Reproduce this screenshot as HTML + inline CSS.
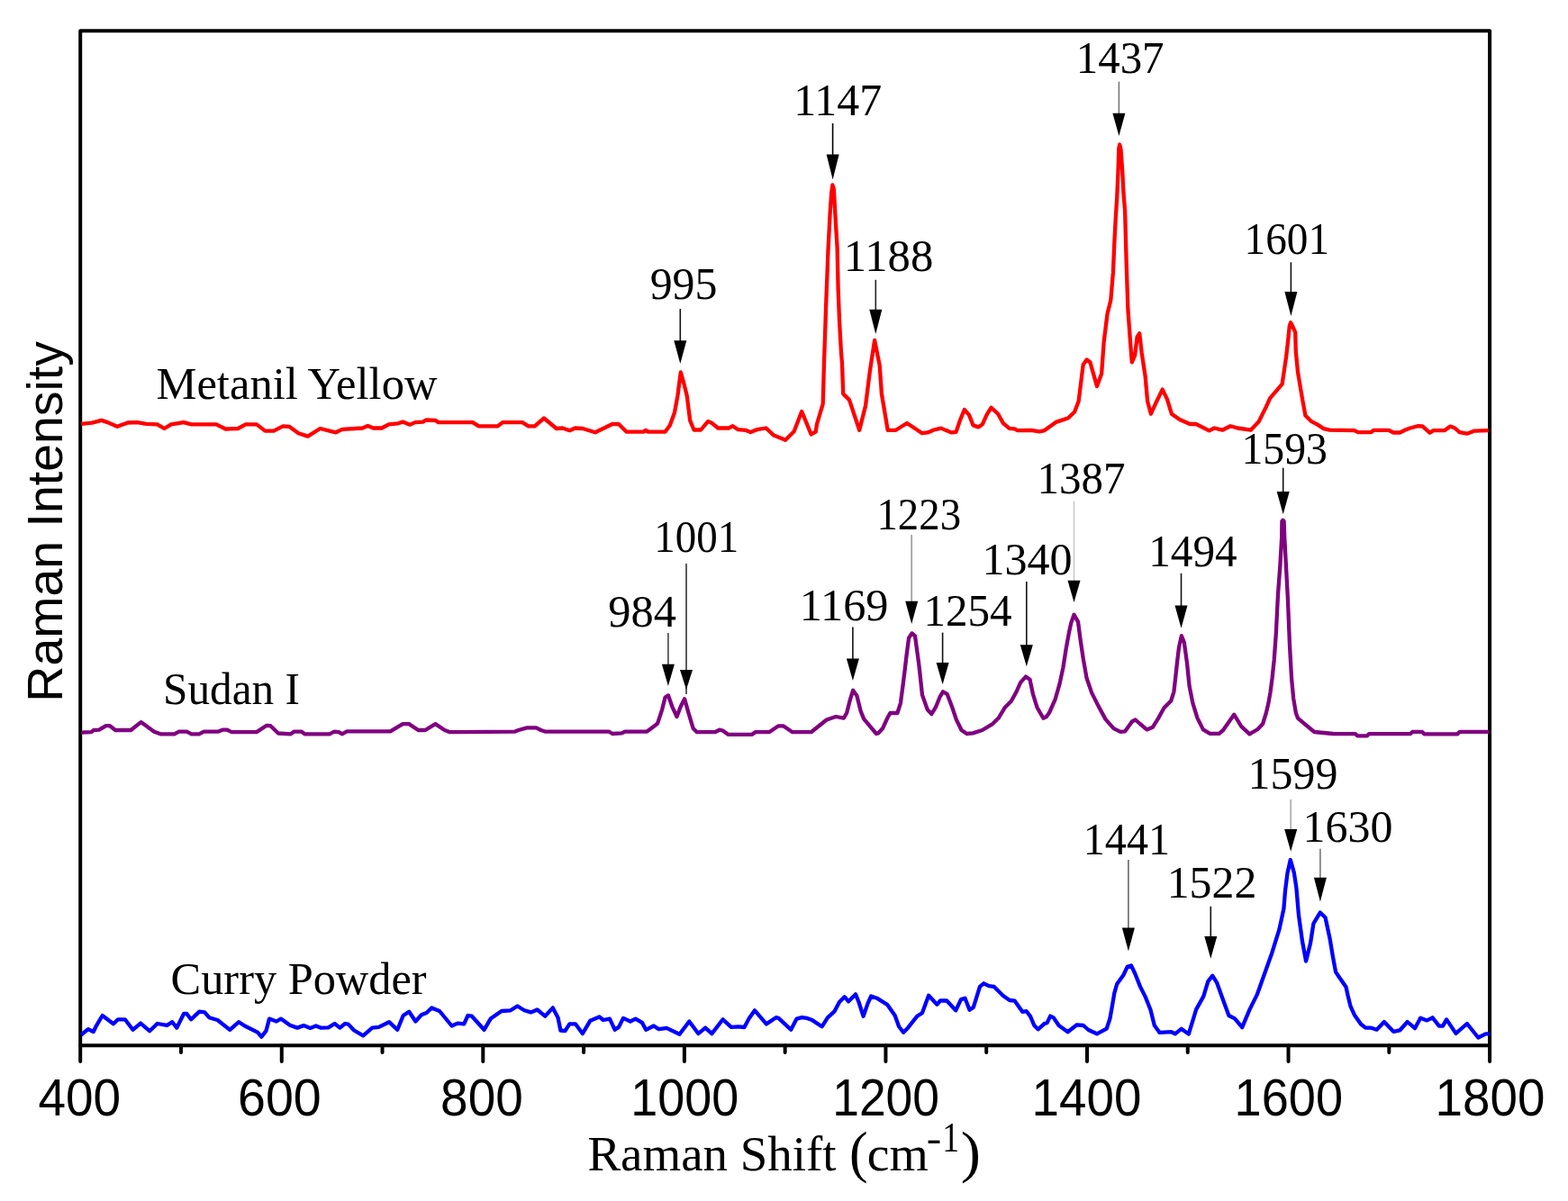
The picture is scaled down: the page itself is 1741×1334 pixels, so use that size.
<!DOCTYPE html><html><head><meta charset="utf-8"><title>Raman spectra</title><style>html,body{margin:0;padding:0;background:#fff;}svg{display:block;}</style></head><body>
<svg width="1741" height="1334" viewBox="0 0 1741 1334">
<rect x="0" y="0" width="1741" height="1334" fill="#ffffff"/>
<rect x="89.20" y="34.30" width="1564.90" height="1126.90" fill="none" stroke="#000" stroke-width="4.00" stroke-linejoin="round"/>
<path d="M89.20 1161.20V1179.00M200.98 1161.20V1169.00M312.76 1161.20V1179.00M424.54 1161.20V1169.00M536.31 1161.20V1179.00M648.09 1161.20V1169.00M759.87 1161.20V1179.00M871.65 1161.20V1169.00M983.43 1161.20V1179.00M1095.21 1161.20V1169.00M1206.99 1161.20V1179.00M1318.76 1161.20V1169.00M1430.54 1161.20V1179.00M1542.32 1161.20V1169.00M1654.10 1161.20V1179.00" stroke="#000" stroke-width="4.00" stroke-linecap="round" fill="none"/>
<g fill="none" stroke-width="4.30" stroke-linejoin="round" stroke-linecap="butt">
<path stroke="#ff0000" d="M90.2 470.8L102.2 469.6L112.6 466.9L119.5 469.1L130.1 473.8L141.9 469.5L152.2 469.1L162.5 470.8L174.6 471.4L182.4 476.0L190.1 471.4L203.9 469.1L212.5 471.4L240.1 471.4L250.4 476.5L264.2 476.0L272.8 471.4L284.9 471.4L294.4 478.6L303.9 478.6L314.2 473.4L321.1 473.8L331.4 481.2L341.8 484.6L355.5 476.0L372.8 480.3L380.0 476.9L402.4 475.5L408.4 473.1L414.5 475.5L423.9 475.5L431.7 471.4L442.0 470.3L447.2 468.6L455.0 471.7L461.0 469.1L469.6 468.6L473.1 466.5L483.4 466.9L486.8 469.1L524.8 469.1L531.6 473.4L552.3 473.4L558.4 469.1L579.9 469.1L586.8 473.4L593.7 473.4L604.0 464.5L617.8 476.0L624.7 475.5L632.5 478.2L638.5 475.5L647.1 476.0L660.9 480.3L680.0 471.0L686.9 471.0L695.5 479.6L714.5 479.6L717.0 477.9L719.6 479.6L738.6 479.6L743.8 472.4L748.9 458.6L752.4 439.6L755.8 413.5L759.3 425.8L762.7 439.6L766.2 467.2L770.5 477.5L778.2 477.5L786.0 468.1L790.3 469.8L797.2 475.5L809.2 475.5L813.6 473.2L819.6 477.2L828.2 477.9L833.4 480.1L840.3 477.2L850.6 475.5L859.2 483.6L872.1 488.7L881.6 479.3L890.2 457.0L900.6 482.4L905.7 479.6L907.0 471.1L913.7 448.6L914.9 405.9L917.1 340.7L919.4 280.0L921.6 237.2L923.2 214.0L924.4 205.3L925.8 210.0L927.2 235.0L928.2 252.0L929.6 275.0L930.6 320.0L932.0 356.0L934.0 392.0L935.0 403.6L936.2 437.4L943.0 444.1L954.2 477.8L961.0 450.9L965.5 414.9L971.1 378.0L976.7 405.9L978.9 437.4L985.7 477.8L994.7 477.8L1007.0 470.0L1023.9 481.2L1030.0 480.4L1036.9 477.5L1044.9 475.6L1050.7 478.1L1056.4 480.4L1061.6 479.8L1065.6 467.8L1070.8 455.0L1076.0 460.9L1080.5 472.4L1086.3 474.4L1090.9 471.2L1095.5 460.9L1100.6 452.7L1108.1 459.7L1113.9 470.1L1120.8 475.8L1126.5 476.4L1129.9 478.1L1144.9 477.9L1154.1 479.3L1159.8 478.1L1172.4 468.9L1179.3 466.6L1186.2 464.3L1193.1 457.4L1197.6 445.7L1202.7 404.9L1206.6 399.5L1210.4 402.3L1218.0 429.1L1223.1 415.1L1225.7 379.4L1229.5 348.8L1233.3 333.5L1235.9 302.9L1237.2 272.3L1238.6 245.0L1240.2 220.0L1241.5 190.0L1242.3 165.0L1243.2 160.5L1244.5 166.0L1246.2 190.0L1247.5 215.0L1249.1 234.1L1250.7 292.7L1252.4 343.7L1255.0 379.4L1256.8 402.3L1260.1 394.7L1262.6 374.3L1265.2 370.2L1267.7 392.1L1271.6 417.6L1274.1 445.7L1277.9 459.7L1284.3 445.7L1290.7 432.6L1295.8 443.1L1300.9 459.7L1309.8 466.0L1321.2 471.0L1328.0 471.0L1342.6 478.3L1348.2 475.5L1357.2 477.7L1366.2 473.3L1374.1 475.5L1388.7 477.7L1397.7 468.2L1405.6 452.4L1410.1 442.3L1423.6 426.6L1425.8 412.0L1428.1 396.2L1430.3 377.1L1431.8 362.0L1433.1 358.2L1434.6 361.0L1438.2 369.2L1438.8 390.6L1441.0 413.1L1443.8 430.0L1446.1 443.5L1449.4 461.4L1456.2 468.2L1462.9 471.6L1469.7 476.1L1476.4 477.7L1503.8 478.1L1507.9 480.1L1522.4 480.1L1525.5 477.8L1542.0 477.8L1547.2 480.5L1554.4 480.5L1559.6 477.8L1565.8 475.5L1574.1 473.2L1579.3 473.4L1587.5 480.7L1591.7 478.1L1604.1 478.1L1610.3 473.6L1615.4 475.5L1620.6 480.1L1628.9 481.7L1637.2 478.6L1652.7 478.1"/>
<path stroke="#800080" d="M90.2 813.6L101.4 813.1L104.0 811.0L110.0 810.7L117.7 806.2L122.0 806.2L128.1 811.0L145.3 811.0L156.5 802.1L171.2 812.7L178.1 815.3L193.6 815.3L198.7 812.7L207.4 812.7L212.5 815.3L221.1 815.3L226.3 812.7L241.8 812.7L247.0 810.7L252.2 810.7L257.3 813.1L284.9 813.1L296.1 805.8L300.4 806.2L309.0 814.5L322.8 815.3L326.3 812.7L334.9 812.7L338.3 815.3L365.9 815.3L371.1 812.7L376.2 813.1L379.7 815.3L385.2 812.4L433.4 812.4L447.2 804.1L454.1 804.1L464.4 811.0L472.2 811.0L483.4 804.1L493.7 811.0L498.9 813.1L571.3 812.7L575.6 811.0L585.1 808.4L595.4 808.4L600.6 811.0L605.7 812.7L676.4 812.7L680.0 815.0L690.3 814.4L693.8 812.7L717.9 812.7L723.1 808.9L730.0 803.8L735.1 788.3L738.6 774.5L742.0 772.4L746.3 784.8L751.5 796.0L755.8 784.8L760.1 776.3L764.4 791.7L769.6 808.9L773.9 813.2L793.7 813.2L798.9 810.7L802.4 811.5L808.4 815.8L835.1 815.8L838.5 813.2L854.0 813.2L864.4 806.3L869.6 806.3L879.9 813.2L900.6 813.2L917.8 799.5L928.1 796.0L936.8 797.7L940.2 791.7L943.7 777.9L947.1 766.8L951.4 772.7L955.7 790.0L959.2 798.6L973.0 815.0L975.2 814.4L980.3 808.7L984.9 798.3L988.4 792.0L996.4 792.0L999.9 781.1L1002.2 763.9L1004.5 745.5L1006.8 726.0L1009.1 708.7L1012.5 703.4L1016.0 706.4L1018.2 722.5L1020.5 739.7L1024.0 771.9L1029.7 788.0L1034.3 793.2L1038.9 785.7L1043.5 774.2L1047.0 768.3L1051.6 770.8L1057.3 785.7L1061.9 799.5L1067.6 811.0L1073.4 815.0L1080.3 814.4L1090.6 811.0L1102.1 804.1L1109.0 797.2L1115.9 785.7L1122.8 778.8L1128.5 768.5L1133.1 758.1L1138.9 751.6L1143.5 754.7L1146.9 770.8L1151.5 785.7L1158.4 797.7L1162.0 796.0L1165.1 791.5L1171.5 777.2L1176.6 759.4L1180.4 741.6L1183.6 721.2L1186.8 703.3L1189.3 691.9L1192.5 682.7L1197.0 690.6L1199.5 709.7L1202.7 731.4L1206.5 753.0L1212.2 769.6L1219.9 784.9L1227.5 798.9L1236.5 809.1L1244.1 812.9L1249.2 812.3L1256.9 801.5L1260.7 799.5L1265.8 804.0L1273.4 810.4L1279.8 807.8L1286.2 797.6L1292.5 786.2L1300.2 778.5L1303.4 768.3L1305.3 751.8L1307.2 733.9L1309.1 718.6L1311.9 706.2L1314.8 713.5L1318.0 736.5L1320.6 762.0L1324.4 781.1L1329.5 797.6L1335.9 810.4L1343.5 814.8L1353.7 814.8L1358.1 811.0L1370.2 793.7L1378.3 806.9L1387.4 815.4L1396.5 810.0L1402.1 804.0L1405.8 792.0L1408.4 781.0L1410.5 769.0L1412.6 753.0L1414.7 733.0L1416.8 704.0L1419.0 660.0L1421.4 628.0L1423.2 596.0L1423.4 579.0L1424.5 577.8L1425.6 579.0L1426.2 596.0L1427.7 624.0L1429.9 665.0L1432.0 717.0L1434.1 754.0L1436.2 776.0L1438.9 792.0L1441.0 797.6L1447.1 802.9L1459.3 813.0L1480.0 815.0L1504.9 815.1L1507.1 817.3L1518.0 817.3L1520.2 815.1L1566.0 815.1L1568.2 812.9L1579.1 812.9L1581.3 815.3L1618.4 815.3L1620.6 812.9L1653.3 812.9"/>
<path stroke="#0000ff" d="M90.0 1149.5L97.9 1143.1L103.7 1146.0L106.5 1140.2L113.7 1128.0L125.9 1137.3L131.0 1132.3L138.8 1132.3L147.5 1143.8L156.1 1136.6L166.1 1145.2L174.7 1137.0L185.5 1138.8L191.3 1135.2L196.3 1141.6L204.2 1125.8L207.1 1125.8L212.1 1132.3L221.4 1123.7L227.2 1124.4L232.2 1130.2L241.5 1133.0L255.2 1143.8L265.2 1135.2L271.7 1139.5L286.0 1146.7L290.3 1151.7L295.4 1145.2L299.0 1131.6L306.9 1134.5L311.9 1131.6L321.9 1138.8L330.0 1141.6L337.2 1139.1L344.4 1141.9L350.8 1139.5L355.8 1141.6L364.5 1141.4L371.6 1137.0L377.4 1141.6L383.1 1137.0L386.7 1137.6L393.2 1144.5L403.2 1150.3L413.3 1141.6L420.5 1140.9L432.0 1135.2L441.3 1143.8L447.7 1128.0L454.2 1123.7L461.4 1134.5L467.9 1127.3L473.6 1125.1L479.3 1119.4L488.0 1123.0L501.6 1139.5L508.1 1136.6L515.2 1137.3L519.5 1128.0L523.9 1128.7L537.5 1143.8L544.7 1131.6L556.9 1123.0L566.9 1122.3L574.5 1117.5L582.2 1122.3L589.4 1124.4L596.5 1121.5L605.2 1128.7L613.8 1119.4L619.5 1130.2L622.4 1144.5L627.4 1145.2L632.4 1137.3L638.9 1137.3L646.8 1148.1L655.4 1133.7L665.5 1129.4L669.8 1133.0L677.0 1131.6L682.7 1143.8L687.0 1140.9L692.0 1130.9L699.9 1134.5L705.7 1131.6L712.9 1135.9L717.2 1143.8L725.8 1139.5L731.5 1143.1L740.1 1141.9L754.5 1148.8L765.3 1134.5L775.3 1148.1L783.2 1141.6L790.4 1148.1L802.6 1132.3L811.9 1140.9L820.0 1140.3L826.5 1141.0L831.5 1131.6L838.0 1122.3L850.9 1137.4L861.6 1130.2L864.5 1130.9L878.2 1143.8L884.6 1131.6L890.4 1130.2L896.1 1130.9L901.8 1133.1L912.6 1140.3L919.1 1130.2L926.3 1123.7L932.0 1113.0L937.7 1107.2L942.1 1112.3L950.0 1104.4L953.5 1113.0L958.6 1128.8L963.6 1114.4L967.2 1106.5L973.6 1108.7L985.1 1115.8L993.7 1128.1L998.1 1140.3L1003.1 1146.7L1008.1 1141.7L1018.2 1128.8L1023.9 1125.2L1031.1 1105.8L1040.4 1115.8L1044.0 1111.5L1051.2 1111.5L1061.2 1122.3L1067.0 1110.1L1071.5 1108.8L1076.5 1121.7L1080.8 1118.9L1088.0 1095.9L1092.3 1092.3L1098.0 1095.2L1103.8 1095.9L1113.8 1106.0L1121.0 1111.0L1126.7 1111.7L1135.4 1123.9L1139.7 1123.2L1144.0 1128.9L1148.3 1139.0L1152.6 1143.3L1159.8 1136.8L1162.6 1136.1L1166.2 1128.6L1169.8 1130.4L1175.6 1139.0L1185.6 1146.2L1195.7 1138.3L1202.9 1139.0L1208.6 1144.0L1217.9 1148.3L1228.7 1142.6L1232.3 1131.8L1234.4 1120.3L1237.3 1103.1L1240.2 1093.0L1247.4 1083.0L1251.7 1073.9L1256.0 1072.5L1260.3 1081.5L1266.0 1095.9L1271.8 1107.4L1277.5 1121.7L1281.8 1139.0L1287.6 1146.9L1300.5 1146.2L1304.8 1148.3L1311.6 1142.8L1319.8 1148.6L1328.1 1121.4L1336.3 1106.6L1341.3 1090.1L1346.2 1083.7L1351.2 1091.7L1357.8 1109.9L1364.4 1128.0L1371.0 1131.3L1379.2 1141.2L1387.5 1121.4L1395.7 1104.9L1404.0 1081.8L1412.2 1058.7L1420.4 1032.4L1425.4 1009.3L1427.0 989.5L1429.5 969.7L1432.8 955.0L1436.9 969.7L1439.4 986.2L1441.9 1015.9L1446.0 1045.5L1450.1 1067.6L1455.1 1047.2L1458.4 1025.8L1465.8 1013.6L1471.6 1019.2L1476.5 1042.2L1480.0 1063.1L1483.1 1079.6L1487.2 1085.8L1494.5 1096.2L1496.5 1105.5L1499.6 1117.9L1503.8 1127.2L1511.0 1137.5L1516.2 1141.7L1522.4 1141.7L1528.6 1143.7L1536.9 1135.0L1547.2 1145.8L1554.4 1144.3L1562.7 1135.0L1571.0 1142.2L1577.2 1130.8L1584.4 1133.4L1590.6 1130.3L1597.9 1139.6L1602.0 1139.6L1606.1 1132.4L1616.5 1147.9L1628.9 1137.0L1641.3 1152.5L1649.6 1148.4L1653.7 1148.4"/>
</g>
<g fill="#000">
<text transform="matrix(1.0000 0 0 1.0289 42.40 1239.40)" font-family="Liberation Sans, Arial, sans-serif" font-size="55">400</text>
<text transform="matrix(1.0103 0 0 1.0289 264.07 1239.40)" font-family="Liberation Sans, Arial, sans-serif" font-size="55">600</text>
<text transform="matrix(0.9989 0 0 1.0289 489.10 1239.40)" font-family="Liberation Sans, Arial, sans-serif" font-size="55">800</text>
<text transform="matrix(0.9810 0 0 1.0289 700.18 1239.40)" font-family="Liberation Sans, Arial, sans-serif" font-size="55">1000</text>
<text transform="matrix(0.9707 0 0 1.0289 924.22 1239.40)" font-family="Liberation Sans, Arial, sans-serif" font-size="55">1200</text>
<text transform="matrix(0.9948 0 0 1.0289 1145.62 1239.40)" font-family="Liberation Sans, Arial, sans-serif" font-size="55">1400</text>
<text transform="matrix(0.9845 0 0 1.0289 1370.56 1239.40)" font-family="Liberation Sans, Arial, sans-serif" font-size="55">1600</text>
<text transform="matrix(0.9957 0 0 1.0289 1593.62 1239.40)" font-family="Liberation Sans, Arial, sans-serif" font-size="55">1800</text>
<text transform="matrix(0 -1.0082 1.0000 0 68.80 779.64)" font-family="Liberation Sans, Arial, sans-serif" font-size="55">Raman Intensity</text>
<text transform="matrix(0.9982 0 0 1 652.50 1300.20)" font-family="Liberation Serif, Times New Roman, serif" font-size="55">Raman Shift</text>
<text transform="matrix(1.0125 0 0 1 962.77 1300.20)" font-family="Liberation Serif, Times New Roman, serif" font-size="55">cm</text>
<text transform="matrix(1.1267 0 0 1.1571 943.05 1300.77)" font-family="Liberation Serif, Times New Roman, serif" font-size="55">(</text>
<text transform="matrix(1.1273 0 0 1.0000 1028.75 1279.25)" font-family="Liberation Serif, Times New Roman, serif" font-size="44">-</text>
<text transform="matrix(0.8600 0 0 1.0310 1046.36 1278.60)" font-family="Liberation Serif, Times New Roman, serif" font-size="44">1</text>
<text transform="matrix(1.2143 0 0 1.1571 1066.67 1300.77)" font-family="Liberation Serif, Times New Roman, serif" font-size="55">)</text>
<text transform="matrix(1.0026 0 0 1 173.40 443.10)" font-family="Liberation Serif, Times New Roman, serif" font-size="50.5">Metanil Yellow</text>
<text transform="matrix(0.9755 0 0 1 181.07 782.40)" font-family="Liberation Serif, Times New Roman, serif" font-size="50.5">Sudan I</text>
<text transform="matrix(0.9975 0 0 1 189.60 1103.60)" font-family="Liberation Serif, Times New Roman, serif" font-size="50.5">Curry Powder</text>
<text transform="matrix(0.9685 0 0 1.0000 721.66 332.35)" font-family="Liberation Serif, Times New Roman, serif" font-size="51.5">995</text>
<text transform="matrix(0.9695 0 0 1.0000 881.25 127.70)" font-family="Liberation Serif, Times New Roman, serif" font-size="51.5">1147</text>
<text transform="matrix(0.9851 0 0 1.0000 936.77 300.75)" font-family="Liberation Serif, Times New Roman, serif" font-size="51.5">1188</text>
<text transform="matrix(0.9495 0 0 1.0000 1194.75 81.10)" font-family="Liberation Serif, Times New Roman, serif" font-size="51.5">1437</text>
<text transform="matrix(0.9179 0 0 1.0000 1381.61 282.15)" font-family="Liberation Serif, Times New Roman, serif" font-size="51.5">1601</text>
<text transform="matrix(0.9784 0 0 1.0000 675.34 696.30)" font-family="Liberation Serif, Times New Roman, serif" font-size="51.5">984</text>
<text transform="matrix(0.9116 0 0 1.0000 726.24 613.25)" font-family="Liberation Serif, Times New Roman, serif" font-size="51.5">1001</text>
<text transform="matrix(0.9766 0 0 1.0000 887.72 688.70)" font-family="Liberation Serif, Times New Roman, serif" font-size="51.5">1169</text>
<text transform="matrix(0.9094 0 0 1.0000 973.45 587.55)" font-family="Liberation Serif, Times New Roman, serif" font-size="51.5">1223</text>
<text transform="matrix(0.9526 0 0 1.0000 1025.44 694.90)" font-family="Liberation Serif, Times New Roman, serif" font-size="51.5">1254</text>
<text transform="matrix(0.9729 0 0 1.0000 1090.44 638.25)" font-family="Liberation Serif, Times New Roman, serif" font-size="51.5">1340</text>
<text transform="matrix(0.9515 0 0 1.0000 1151.44 548.00)" font-family="Liberation Serif, Times New Roman, serif" font-size="51.5">1387</text>
<text transform="matrix(0.9567 0 0 1.0000 1275.22 628.95)" font-family="Liberation Serif, Times New Roman, serif" font-size="51.5">1494</text>
<text transform="matrix(0.9271 0 0 1.0000 1378.46 515.10)" font-family="Liberation Serif, Times New Roman, serif" font-size="51.5">1593</text>
<text transform="matrix(0.9358 0 0 1.0000 1202.72 949.35)" font-family="Liberation Serif, Times New Roman, serif" font-size="51.5">1441</text>
<text transform="matrix(0.9684 0 0 1.0000 1295.66 996.95)" font-family="Liberation Serif, Times New Roman, serif" font-size="51.5">1522</text>
<text transform="matrix(0.9698 0 0 1.0000 1385.55 875.95)" font-family="Liberation Serif, Times New Roman, serif" font-size="51.5">1599</text>
<text transform="matrix(0.9698 0 0 1.0000 1446.55 934.90)" font-family="Liberation Serif, Times New Roman, serif" font-size="51.5">1630</text>
</g>
<line x1="755.30" y1="343.10" x2="755.30" y2="379.20" stroke="#111" stroke-width="1.6"/>
<line x1="924.60" y1="137.00" x2="924.60" y2="172.60" stroke="#000" stroke-width="1.6"/>
<line x1="972.30" y1="310.80" x2="972.30" y2="344.70" stroke="#222" stroke-width="1.6"/>
<line x1="1242.40" y1="90.70" x2="1242.40" y2="126.80" stroke="#777" stroke-width="1.6"/>
<line x1="1433.40" y1="291.30" x2="1433.40" y2="325.10" stroke="#111" stroke-width="1.6"/>
<line x1="741.90" y1="703.00" x2="741.90" y2="738.70" stroke="#444" stroke-width="1.6"/>
<line x1="762.00" y1="625.90" x2="762.00" y2="771.00" stroke="#333" stroke-width="1.6"/>
<line x1="946.90" y1="696.50" x2="946.90" y2="732.60" stroke="#111" stroke-width="1.6"/>
<line x1="1012.20" y1="594.00" x2="1012.20" y2="668.70" stroke="#999" stroke-width="1.6"/>
<line x1="1046.60" y1="702.60" x2="1046.60" y2="737.10" stroke="#111" stroke-width="1.6"/>
<line x1="1139.80" y1="645.90" x2="1139.80" y2="717.20" stroke="#111" stroke-width="1.6"/>
<line x1="1192.50" y1="556.70" x2="1192.50" y2="645.80" stroke="#c8c8c8" stroke-width="1.6"/>
<line x1="1311.50" y1="636.80" x2="1311.50" y2="673.40" stroke="#111" stroke-width="1.6"/>
<line x1="1424.70" y1="519.70" x2="1424.70" y2="546.90" stroke="#111" stroke-width="1.6"/>
<line x1="1252.90" y1="955.10" x2="1252.90" y2="1031.60" stroke="#666" stroke-width="1.6"/>
<line x1="1344.30" y1="1006.80" x2="1344.30" y2="1040.90" stroke="#111" stroke-width="1.6"/>
<line x1="1433.20" y1="887.90" x2="1433.20" y2="922.00" stroke="#aaa" stroke-width="1.6"/>
<line x1="1465.90" y1="942.70" x2="1465.90" y2="975.70" stroke="#777" stroke-width="1.6"/>
<g fill="#000"><polygon points="748.30,378.20 762.30,378.20 755.30,404.00"/><polygon points="917.60,171.60 931.60,171.60 924.60,199.40"/><polygon points="965.30,343.70 979.30,343.70 972.30,371.10"/><polygon points="1235.40,125.80 1249.40,125.80 1242.40,151.10"/><polygon points="1426.40,324.10 1440.40,324.10 1433.40,351.10"/><polygon points="734.90,737.70 748.90,737.70 741.90,762.00"/><polygon points="755.00,744.00 769.00,744.00 762.00,766.00"/><polygon points="939.90,731.60 953.90,731.60 946.90,755.90"/><polygon points="1005.20,667.70 1019.20,667.70 1012.20,692.90"/><polygon points="1039.60,736.10 1053.60,736.10 1046.60,760.30"/><polygon points="1132.80,716.20 1146.80,716.20 1139.80,740.30"/><polygon points="1185.50,644.80 1199.50,644.80 1192.50,669.00"/><polygon points="1304.50,672.40 1318.50,672.40 1311.50,697.70"/><polygon points="1417.70,545.90 1431.70,545.90 1424.70,571.20"/><polygon points="1245.90,1030.60 1259.90,1030.60 1252.90,1056.40"/><polygon points="1337.30,1039.90 1351.30,1039.90 1344.30,1064.70"/><polygon points="1426.20,921.00 1440.20,921.00 1433.20,945.80"/><polygon points="1458.90,974.70 1472.90,974.70 1465.90,1001.60"/></g>
</svg></body></html>
